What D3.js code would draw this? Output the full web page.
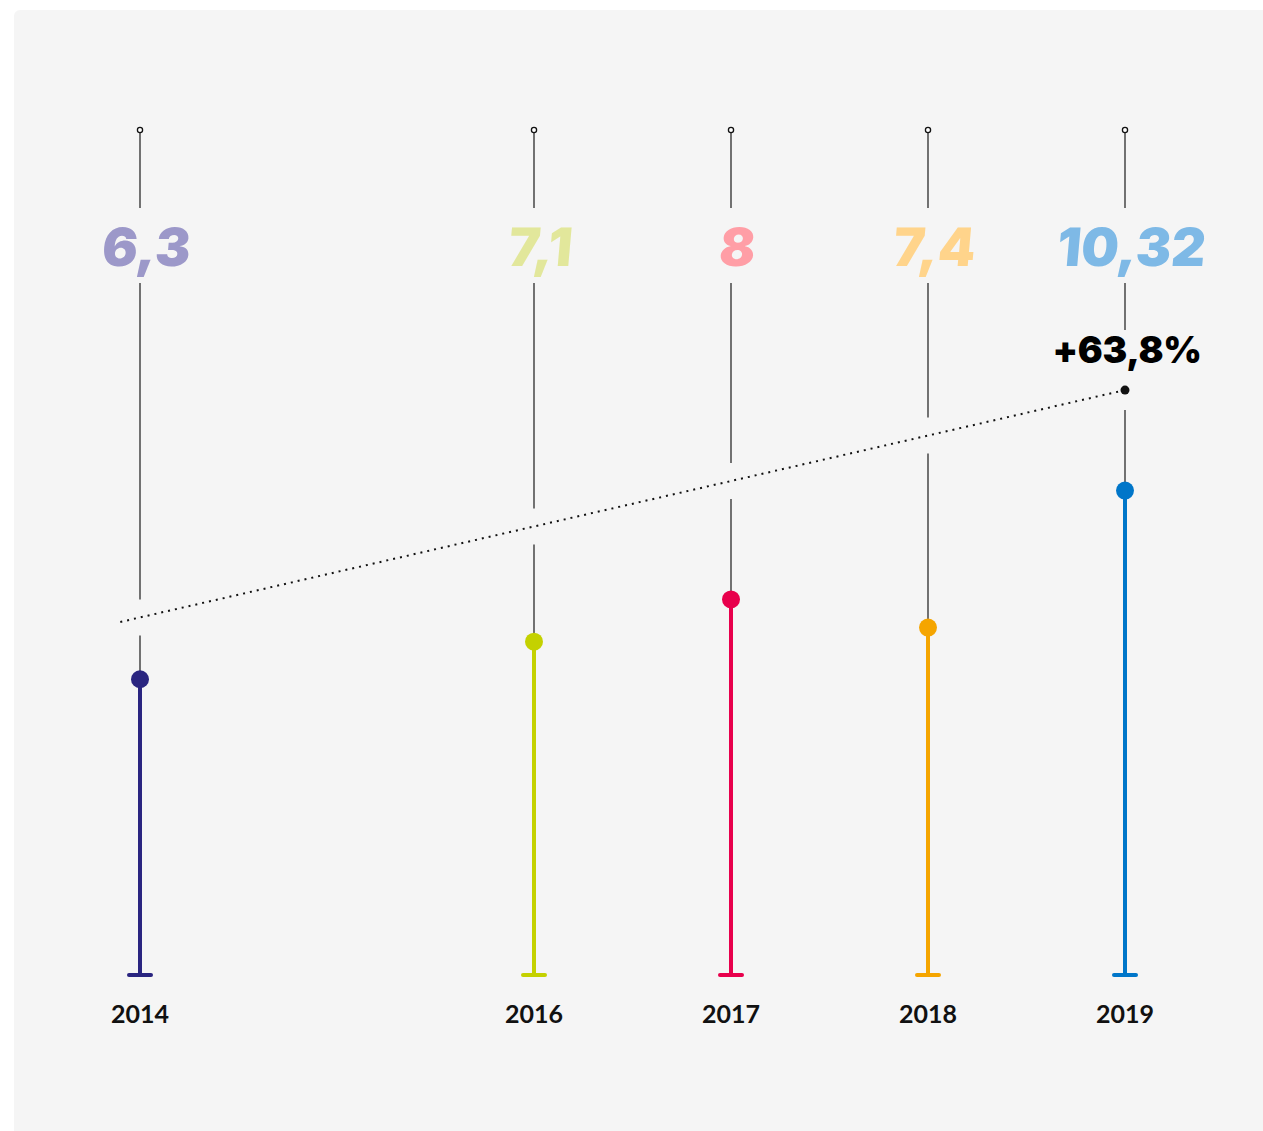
<!DOCTYPE html>
<html>
<head>
<meta charset="utf-8">
<script src="https://cdn.jsdelivr.net/npm/d3@7"></script>
<style>
  html, body { margin: 0; padding: 0; background: #ffffff; }
  svg { display: block; }
</style>
</head>
<body>
<svg id="chart" width="1263" height="1131"></svg>
<script>
// Yearly values
const years = [2014, 2016, 2017, 2018, 2019];
const values = [6.3, 7.1, 8, 7.4, 10.32];
const valueLabels = ["6,3", "7,1", "8", "7,4", "10,32"];
const markColors = ["#2a2580", "#c4d100", "#e8004c", "#f5a500", "#0076c9"];
const labelColors = ["#9c98c9", "#e2e79b", "#ff9ea6", "#ffd48b", "#7eb9e6"];

// Growth trend drawn across the stems
const trendYears = [2013.9, 2019];
const trendValues = [7.52, 12.46];
const growthLabel = "+63,8%";

const svg = d3.select("#chart");
const W = 1263, H = 1131;

// panel
svg.append("rect")
  .attr("x", 14).attr("y", 10)
  .attr("width", W - 14 + 10).attr("height", H - 10 + 10)
  .attr("rx", 6)
  .attr("fill", "#f5f5f5");

const x = d3.scaleLinear().domain([2014, 2019]).range([140, 1125]);
const y = d3.scaleLinear().domain([0, 18]).range([975, 130]);

const data = years.map((yr, i) => ({
  year: yr, value: values[i], label: valueLabels[i],
  color: markColors[i], labelColor: labelColors[i]
}));

const trendY = yr => {
  const t = (yr - trendYears[0]) / (trendYears[1] - trendYears[0]);
  return y(trendValues[0] + t * (trendValues[1] - trendValues[0]));
};

const labelBaseline = 266;
const gapTop = 208, gapBottom = 283;
const lastYear = years[years.length - 1];
const heavyFont = "Inter, 'Noto Sans', sans-serif";

const g = svg.append("g");

// thin guide stems with gaps for labels and the trend line
data.forEach(d => {
  const cx = x(d.year);
  const ty = trendY(d.year);
  const isLast = d.year === lastYear;
  const segs = [
    [y(18) + 3, gapTop],
    [gapBottom, isLast ? ty - 60 : ty - 18],
    [isLast ? ty + 20 : ty + 18, y(d.value)]
  ];
  segs.forEach(s => {
    if (s[1] > s[0]) {
      g.append("line")
        .attr("x1", cx).attr("x2", cx)
        .attr("y1", s[0]).attr("y2", s[1])
        .attr("stroke", "#3a3a3a").attr("stroke-width", 1.4);
    }
  });
  g.append("circle")
    .attr("cx", cx).attr("cy", y(18))
    .attr("r", 2.6)
    .attr("fill", "#ffffff").attr("stroke", "#111").attr("stroke-width", 1.3);
});

// value labels, slightly slanted
g.selectAll("text.val").data(data).join("text")
  .attr("class", "val")
  .attr("text-anchor", "middle")
  .attr("transform", d => `translate(${x(d.year) + 5},${labelBaseline}) skewX(-5)`)
  .attr("font-family", heavyFont)
  .attr("font-weight", 900)
  .attr("font-size", 53)
  .attr("letter-spacing", 0)
  .attr("fill", d => d.labelColor)
  .text(d => d.label);

// coloured stems
g.selectAll("line.stem").data(data).join("line")
  .attr("class", "stem")
  .attr("x1", d => x(d.year)).attr("x2", d => x(d.year))
  .attr("y1", d => y(d.value)).attr("y2", y(0))
  .attr("stroke", d => d.color).attr("stroke-width", 4);

// base caps
g.selectAll("line.cap").data(data).join("line")
  .attr("class", "cap")
  .attr("x1", d => x(d.year) - 11).attr("x2", d => x(d.year) + 11)
  .attr("y1", y(0)).attr("y2", y(0))
  .attr("stroke", d => d.color).attr("stroke-width", 4)
  .attr("stroke-linecap", "round");

// value dots
g.selectAll("circle.dot").data(data).join("circle")
  .attr("class", "dot")
  .attr("cx", d => x(d.year)).attr("cy", d => y(d.value))
  .attr("r", 9)
  .attr("fill", d => d.color);

// year labels
g.selectAll("text.year").data(data).join("text")
  .attr("class", "year")
  .attr("x", d => x(d.year))
  .attr("y", 1023)
  .attr("text-anchor", "middle")
  .attr("font-family", "Lato, 'Open Sans', sans-serif")
  .attr("font-weight", 700)
  .attr("font-size", 25)
  .attr("fill", "#111")
  .text(d => d.year);

// trend line
const trendPts = trendYears.map((yr, i) => [x(yr), y(trendValues[i])]);
g.append("path")
  .attr("d", d3.line()(trendPts))
  .attr("fill", "none")
  .attr("stroke", "#111")
  .attr("stroke-width", 2)
  .attr("stroke-dasharray", "2,5");

g.append("circle")
  .attr("cx", trendPts[1][0]).attr("cy", trendPts[1][1])
  .attr("r", 4.5).attr("fill", "#111");

g.append("text")
  .attr("x", trendPts[1][0] + 2)
  .attr("y", trendPts[1][1] - 27)
  .attr("text-anchor", "middle")
  .attr("font-family", heavyFont)
  .attr("font-weight", 900)
  .attr("font-size", 37)
  .attr("letter-spacing", -0.3)
  .attr("fill", "#000")
  .text(growthLabel);
</script>
</body>
</html>
